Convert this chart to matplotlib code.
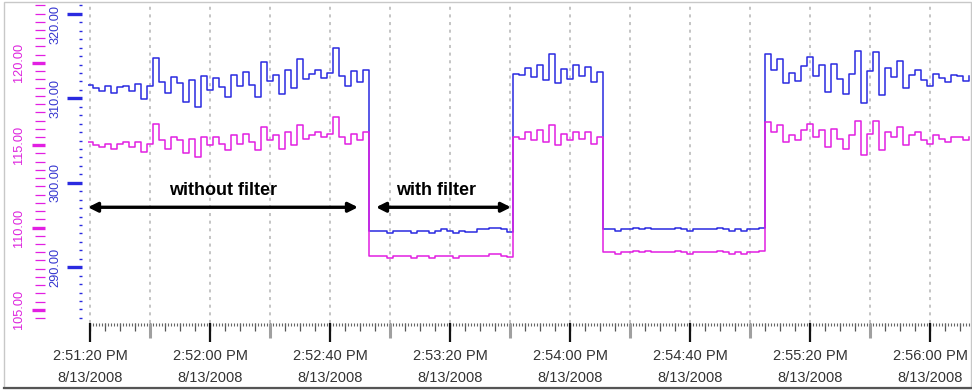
import datetime as dt
import numpy as np
import matplotlib
matplotlib.use('Agg')
import matplotlib.pyplot as plt
from matplotlib.ticker import MultipleLocator, FuncFormatter, NullFormatter
from matplotlib.patches import Rectangle
from matplotlib.lines import Line2D
from matplotlib.transforms import ScaledTranslation

plt.rcParams['font.family'] = ['Liberation Sans', 'DejaVu Sans']

START = dt.datetime(2008, 8, 13, 14, 51, 20)
T0 = -1.0      # first sample, seconds after START
PERIOD = 2.0   # sample period, seconds

# blue trace (left inner axis, 290..320)
blue_without = [311.6, 311.2, 310.9, 311.4, 310.6, 311.3, 311.5, 310.9, 311.7, 309.9,
                311.4, 314.8, 311.9, 310.6, 312.5, 311.8, 309.6, 312.2, 309.0, 312.6,
                311.0, 312.4, 311.3, 310.1, 312.7, 311.4, 313.1, 311.6, 310.2, 314.3,
                312.0, 312.8, 310.5, 313.4, 311.2, 314.6, 312.3, 312.9, 313.3, 312.4,
                313.0, 315.9, 312.6, 311.4, 313.2, 311.9, 313.4]
blue_filter1 = [294.3, 294.3, 294.3, 294.0, 294.3, 294.3, 294.3, 294.0, 294.3, 294.3,
                294.0, 294.3, 294.5, 294.3, 294.0, 294.3, 294.2, 294.2, 294.5, 294.5,
                294.7, 294.7, 294.5, 294.2]
blue_run2 = [312.9, 312.7, 313.6, 312.5, 314.0, 312.2, 315.2, 311.8, 313.5, 312.3,
             313.9, 312.6, 313.7, 311.9, 313.1]
blue_filter2 = [294.5, 294.5, 294.3, 294.5, 294.5, 294.7, 294.5, 294.7, 294.5, 294.5,
                294.5, 294.5, 294.7, 294.5, 294.3, 294.5, 294.5, 294.5, 294.5, 294.7,
                294.5, 294.3, 294.5, 294.3, 294.5, 294.5, 294.7]
blue_run3 = [315.2, 313.4, 314.6, 311.8, 313.0, 312.1, 313.8, 314.9, 312.6, 313.9,
             310.8, 314.1, 312.3, 310.5, 312.9, 315.6, 309.4, 313.2, 315.5, 310.4,
             313.6, 312.5, 314.4, 311.2, 312.8, 313.4, 312.2, 311.5, 312.9, 312.4,
             311.9, 312.7, 312.6, 312.0, 312.6]

# magenta trace (left outer axis, 105..120)
mag_without = [115.2, 115.0, 114.9, 115.1, 114.8, 115.1, 115.2, 114.9, 115.2, 114.6,
               115.1, 116.3, 115.3, 114.8, 115.5, 115.3, 114.5, 115.4, 114.3, 115.5,
               115.0, 115.5, 115.1, 114.7, 115.6, 115.1, 115.7, 115.2, 114.7, 116.1,
               115.3, 115.6, 114.8, 115.8, 115.0, 116.2, 115.4, 115.6, 115.8, 115.5,
               115.7, 116.7, 115.5, 115.1, 115.7, 115.3, 115.8]
mag_filter1 = [108.25, 108.25, 108.25, 108.12, 108.25, 108.25, 108.25, 108.12, 108.25, 108.25,
               108.12, 108.25, 108.25, 108.25, 108.12, 108.25, 108.25, 108.25, 108.3, 108.3,
               108.38, 108.38, 108.3, 108.2]
mag_run2 = [115.5, 115.4, 115.8, 115.3, 115.9, 115.2, 116.2, 115.0, 115.7, 115.3,
            115.8, 115.4, 115.8, 115.1, 115.5]
mag_filter2 = [108.5, 108.5, 108.38, 108.5, 108.5, 108.6, 108.5, 108.6, 108.5, 108.5,
               108.5, 108.5, 108.6, 108.5, 108.38, 108.5, 108.5, 108.5, 108.5, 108.6,
               108.5, 108.38, 108.5, 108.38, 108.5, 108.5, 108.6]
mag_run3 = [116.4, 115.8, 116.2, 115.2, 115.6, 115.3, 115.9, 116.3, 115.5, 115.9,
            114.9, 116.0, 115.4, 114.8, 115.6, 116.5, 114.4, 115.7, 116.5, 114.7,
            115.8, 115.5, 116.1, 115.0, 115.6, 115.8, 115.3, 115.1, 115.6, 115.4,
            115.2, 115.5, 115.5, 115.3, 115.5]

blue = blue_without + blue_filter1 + blue_run2 + blue_filter2 + blue_run3
magenta = mag_without + mag_filter1 + mag_run2 + mag_filter2 + mag_run3
t = T0 + PERIOD * np.arange(len(blue))

BLUE = '#2a2ae0'
MAG = '#e21fe2'

W, H = 972, 391
fig = plt.figure(figsize=(W / 100, H / 100), dpi=100)
ax = fig.add_axes([88 / W, 1 - 323 / H, (970 - 88) / W, (323 - 2) / H])
ax2 = ax.twinx()

ax.plot(t, blue, drawstyle='steps-post', color=BLUE, lw=1.1)
ax2.plot(t, magenta, drawstyle='steps-post', color=MAG, lw=1.1)

ax.set_xlim(-0.7, 293.3)
ax.set_ylim(283.4, 321.4)
ax2.set_ylim(104.2, 123.7)

for a in (ax, ax2):
    for s in a.spines.values():
        s.set_visible(False)

# time axis
def time_label(v, pos):
    d = START + dt.timedelta(seconds=int(round(v)))
    return f"{d.hour % 12 or 12}:{d:%M:%S} {d:%p}\n{d.month}/{d.day}/{d.year}"

ax.xaxis.set_major_locator(MultipleLocator(40))
ax.xaxis.set_minor_locator(MultipleLocator(20))
ax.xaxis.set_major_formatter(FuncFormatter(time_label))
ax.tick_params(axis='x', which='major', length=14, width=1.6, color='#111111',
               labelsize=10.5, labelcolor='#333333', pad=5)
ax.tick_params(axis='x', which='minor', length=11, width=2.2, color='#a0a0a0')
for lbl in ax.get_xticklabels():
    lbl.set_linespacing(1.7)
ax.grid(True, axis='x', which='both', color='#b4b4b4', lw=1.1, linestyle=(0, (2, 3)))

sec5 = ax.secondary_xaxis('bottom')
sec5.xaxis.set_major_locator(MultipleLocator(5))
sec5.xaxis.set_major_formatter(NullFormatter())
sec5.tick_params(axis='x', length=5.5, width=0.9, color='#555555')
sec1 = ax.secondary_xaxis('bottom')
sec1.xaxis.set_major_locator(MultipleLocator(1))
sec1.xaxis.set_major_formatter(NullFormatter())
sec1.tick_params(axis='x', length=2.5, width=0.8, color='#666666')
for s in (sec5, sec1):
    for sp in s.spines.values():
        sp.set_visible(False)

# blue value axis
ax.spines['left'].set_position(('outward', 4))
ax.yaxis.set_major_locator(MultipleLocator(10))
ax.yaxis.set_minor_locator(MultipleLocator(1))
ax.yaxis.set_major_formatter(FuncFormatter(lambda v, p: f"{v:.2f}"))
ax.tick_params(axis='y', which='major', length=11, width=2.4, color=BLUE,
               labelcolor='#3535d0', labelsize=9.2, labelrotation=90, pad=4)
ax.tick_params(axis='y', which='minor', length=2.5, width=1.0, color=BLUE)

# magenta value axis
ax2.yaxis.set_ticks_position('left')
ax2.spines['left'].set_position(('outward', 31))
ax2.yaxis.set_major_locator(MultipleLocator(5))
ax2.yaxis.set_minor_locator(MultipleLocator(0.5))
ax2.yaxis.set_major_formatter(FuncFormatter(lambda v, p: f"{v:.2f}"))
ax2.tick_params(axis='y', which='major', length=9.5, width=2.4, color=MAG,
                labelcolor='#dd22dd', labelsize=9.2, labelrotation=90, pad=5,
                left=True, right=False, labelleft=True, labelright=False)
ax2.tick_params(axis='y', which='minor', length=7, width=0.9, color=MAG,
                left=True, right=False)
for a in (ax, ax2):
    for lbl in a.get_yticklabels():
        lbl.set_va('center')

# the top label is pushed down so it stays inside the frame, as in the screenshot
for tick in ax.yaxis.get_major_ticks():
    if round(tick.get_loc()) == 320:
        tick.label1.set_transform(tick.label1.get_transform()
                                  + ScaledTranslation(0, -8 / 72, fig.dpi_scale_trans))

# annotations
arrow = dict(arrowstyle='<|-|>', color='black', lw=2.4, mutation_scale=14,
             shrinkA=0, shrinkB=0)
ax.annotate('', xy=(-0.7, 297.1), xytext=(89.3, 297.1), arrowprops=arrow)
ax.annotate('', xy=(95.3, 297.1), xytext=(140.3, 297.1), arrowprops=arrow)
ax.text(44.4, 299.1, 'without filter', ha='center', va='center', fontsize=13, fontweight='bold')
ax.text(115.3, 299.1, 'with filter', ha='center', va='center', fontsize=13, fontweight='bold')

# frame of the screenshot
fig.add_artist(Rectangle((4 / W, 3 / H), (971 - 4) / W, (390 - 4) / H,
                         transform=fig.transFigure, fill=False, ec='#c8c8c8', lw=1))
fig.add_artist(Line2D([4 / W, 1], [1 - 388 / H] * 2, transform=fig.transFigure,
                      color='#555555', lw=1.6))

fig.savefig('out.png', dpi=100)
